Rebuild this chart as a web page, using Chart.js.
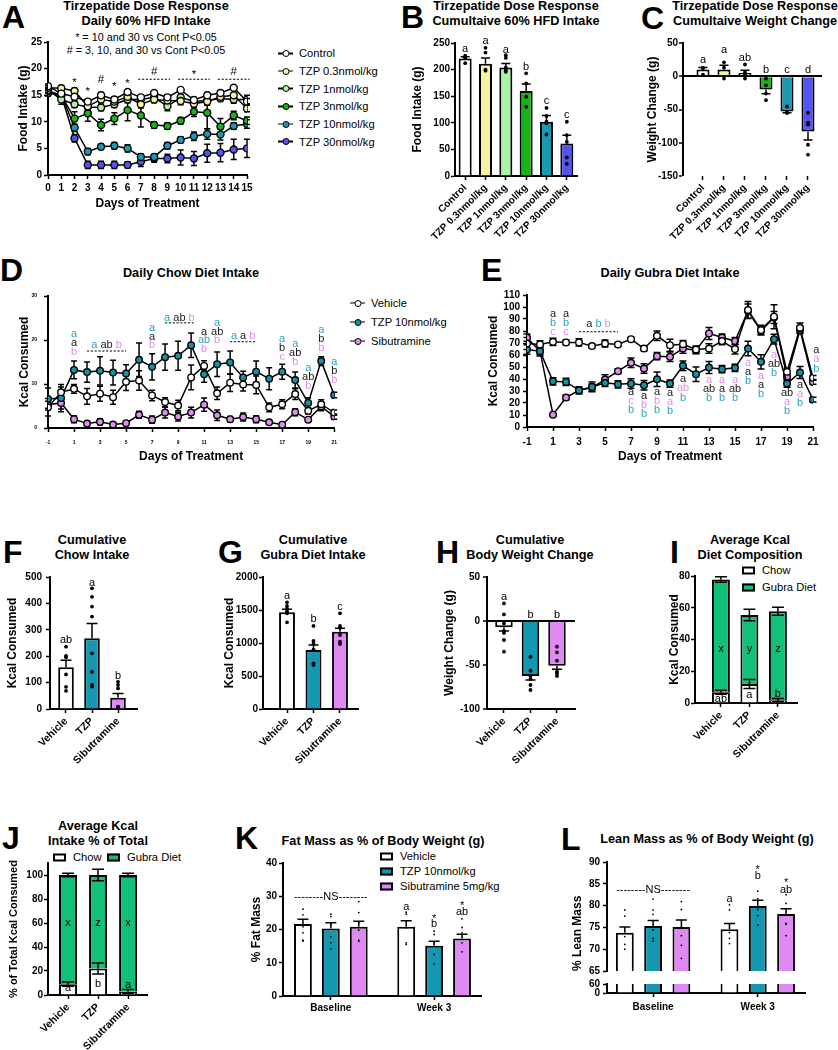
<!DOCTYPE html>
<html><head><meta charset="utf-8">
<script src="https://cdn.jsdelivr.net/npm/chart.js@4.4.1/dist/chart.umd.min.js"></script>
<style>
html,body{margin:0;padding:0;background:#fff;}
#fig{position:relative;width:838px;height:1050px;overflow:hidden;font-family:'Liberation Sans',Arial,Helvetica,sans-serif;color:#000;background:#fff;}
#fig canvas{position:absolute;}
.pl{position:absolute;font-weight:bold;font-size:32px;line-height:32px;}
.tt{position:absolute;width:300px;text-align:center;font-weight:bold;font-size:12.7px;line-height:14.5px;white-space:nowrap;}
.nt{position:absolute;width:300px;text-align:center;font-size:10.8px;line-height:13px;white-space:nowrap;}
.lg{position:absolute;font-size:11.2px;line-height:13px;white-space:nowrap;transform:translateY(-50%);display:flex;align-items:center;}
.mk{position:relative;display:inline-block;width:15px;height:1.6px;background:#000;margin-right:6px;}
.mk i{position:absolute;left:50%;top:50%;width:5px;height:5px;border:1.5px solid #000;border-radius:50%;transform:translate(-50%,-50%);}
.bx{display:inline-block;box-sizing:border-box;width:13px;height:8px;border:2px solid #000;margin-right:7px;}
</style></head><body>
<div id="fig">
<div class="pl" style="left:2px;top:1px">A</div>
<div class="pl" style="left:401px;top:1px">B</div>
<div class="pl" style="left:641px;top:2px">C</div>
<div class="pl" style="left:0px;top:254px">D</div>
<div class="pl" style="left:481px;top:254px">E</div>
<div class="pl" style="left:3px;top:536px">F</div>
<div class="pl" style="left:218px;top:536px">G</div>
<div class="pl" style="left:436px;top:536px">H</div>
<div class="pl" style="left:670px;top:536px">I</div>
<div class="pl" style="left:2px;top:822px">J</div>
<div class="pl" style="left:235px;top:822px">K</div>
<div class="pl" style="left:561px;top:823px">L</div>

<div class="tt" style="left:-4px;top:-1px">Tirzepatide Dose Response<br>Daily 60% HFD Intake</div>
<div class="tt" style="left:366px;top:-1px">Tirzepatide Dose Response<br>Cumultaive 60% HFD Intake</div>
<div class="tt" style="left:605px;top:-1px">Tirzepatide Dose Response<br>Cumultaive Weight Change</div>
<div class="nt" style="left:-4px;top:30.5px">* = 10 and 30 vs Cont P&lt;0.05<br># = 3, 10, and 30 vs Cont P&lt;0.05</div>
<div class="tt" style="left:41px;top:265.5px">Daily Chow Diet Intake</div>
<div class="tt" style="left:520px;top:265.5px">Daily Gubra Diet Intake</div>
<div class="tt" style="left:-58px;top:532.5px;line-height:15px">Cumulative<br>Chow Intake</div>
<div class="tt" style="left:163px;top:532.5px;line-height:15px">Cumulative<br>Gubra Diet Intake</div>
<div class="tt" style="left:380px;top:532.5px;line-height:15px">Cumulative<br>Body Weight Change</div>
<div class="tt" style="left:600px;top:532.5px;line-height:15px">Average Kcal<br>Diet Composition</div>
<div class="tt" style="left:-52px;top:818.5px;line-height:15px">Average Kcal<br>Intake % of Total</div>
<div class="tt" style="left:233px;top:833.75px">Fat Mass as % of Body Weight (g)</div>
<div class="tt" style="left:557px;top:831.75px">Lean Mass as % of Body Weight (g)</div>

<div class="lg" style="left:278px;top:53.3px"><span class="mk"><i style="background:#ffffff"></i></span>Control</div>
<div class="lg" style="left:278px;top:71px"><span class="mk"><i style="background:#f6f3a0"></i></span>TZP 0.3nmol/kg</div>
<div class="lg" style="left:278px;top:88.7px"><span class="mk"><i style="background:#a9f3a2"></i></span>TZP 1nmol/kg</div>
<div class="lg" style="left:278px;top:106.4px"><span class="mk"><i style="background:#19b319"></i></span>TZP 3nmol/kg</div>
<div class="lg" style="left:278px;top:124px"><span class="mk"><i style="background:#1a9ab2"></i></span>TZP 10nmol/kg</div>
<div class="lg" style="left:278px;top:141.7px"><span class="mk"><i style="background:#5353f0"></i></span>TZP 30nmol/kg</div>

<div class="lg" style="left:350px;top:303px"><span class="mk"><i style="background:#ffffff"></i></span>Vehicle</div>
<div class="lg" style="left:350px;top:322px"><span class="mk"><i style="background:#1592ab"></i></span>TZP 10nmol/kg</div>
<div class="lg" style="left:350px;top:341px"><span class="mk"><i style="background:#e08cf0"></i></span>Sibutramine</div>

<div class="lg" style="left:742px;top:570px"><span class="bx" style="background:#fff"></span>Chow</div>
<div class="lg" style="left:742px;top:587px"><span class="bx" style="background:#12c07a"></span>Gubra Diet</div>

<div class="lg" style="left:53px;top:857px"><span class="bx" style="background:#fff"></span>Chow</div>
<div class="lg" style="left:107px;top:857px"><span class="bx" style="background:#12c07a"></span>Gubra Diet</div>

<div class="lg" style="left:380px;top:856px"><span class="bx" style="background:#fff"></span>Vehicle</div>
<div class="lg" style="left:380px;top:871px"><span class="bx" style="background:#1597b0"></span>TZP 10nmol/kg</div>
<div class="lg" style="left:380px;top:886px"><span class="bx" style="background:#df89f3"></span>Sibutramine 5mg/kg</div>
</div>
<script>
// ---------------- DATA ----------------
// Panel A: daily 60% HFD intake (g)
const aDays = [0,1,2,3,4,5,6,7,8,9,10,11,12,13,14,15];
const aControl = [16.7,15.3,14.7,13.8,15.0,14.2,15.6,14.6,15.4,14.6,16.0,14.1,15.0,15.4,16.4,13.8];
const aControlSem = [0.4,0.5,0.5,0.4,0.5,0.5,0.4,0.3,0.4,0.5,0.4,0.5,0.5,0.5,0.3,0.6];
const aTzp03 = [16.4,16.3,15.8,12.9,14.2,13.8,14.7,13.3,14.2,14.0,13.9,13.4,13.8,14.7,15.0,12.5];
const aTzp03Sem = [0.4,0.5,0.5,0.6,0.6,0.6,0.6,0.7,0.6,0.7,0.7,0.6,0.7,0.6,0.5,0.6];
const aTzp1 = [16.0,14.2,13.3,12.8,12.7,13.3,14.2,14.2,14.6,12.9,14.6,13.8,14.0,14.4,14.2,14.2];
const aTzp1Sem = [0.5,0.9,0.6,0.6,0.6,0.6,0.6,0.8,0.7,0.8,0.8,0.7,0.7,0.6,0.7,0.8];
const aTzp3 = [15.8,15.0,10.6,11.6,9.4,10.6,12.2,11.2,9.4,9.2,10.2,11.9,11.7,9.1,11.2,10.2];
const aTzp3Sem = [0.5,0.6,1.3,1.5,1.1,1.1,2.0,2.2,0.6,0.6,0.6,0.9,3.0,1.5,0.8,0.7];
const aTzp10 = [15.4,15.2,8.9,4.4,5.3,5.5,5.0,3.4,3.4,5.5,6.6,7.3,7.7,7.6,9.2,9.6];
const aTzp10Sem = [0.5,0.6,0.7,0.6,0.5,0.6,0.7,0.6,0.5,0.6,0.6,0.8,1.0,1.0,0.6,0.8];
const aTzp30 = [15.4,15.0,6.9,1.9,1.9,1.9,1.9,2.5,3.1,3.1,3.3,3.1,4.1,4.2,4.8,5.0];
const aTzp30Sem = [0.5,0.6,0.7,0.7,0.7,0.7,0.6,0.9,0.7,0.8,1.4,1.3,1.7,1.7,1.9,1.7];
const aMarks = [[2,18.0,'*'],[3,16.25,'*'],[4,17.8,'#'],[5,17.2,'*'],[6,17.8,'*']];
const aSpans = [[6.8,9.2,18.0,19.4,'#'],[9.8,12.2,18.0,19.4,'*'],[12.8,15.2,18.0,19.4,'#']];

// Panel B / C: cumulative intake & weight change
const doseCats = ['Control','TZP 0.3nmol/kg','TZP 1nmol/kg','TZP 3nmol/kg','TZP 10nmol/kg','TZP 30nmol/kg'];
const bMean = [221,211,204,160,102,61];
const bSem = [3,11,7.5,13,11.5,15.5];
const bDots = [[226,224,222,212],[241,232,200,198],[227,222,204,199,196],[193,174,149,130],[128,113,102,99,78],[102,77,64,35,23]];
const bLetters = ['a','a','a','b','c','c'];
const bLetterY = [238,254,237,205,141,115];
const cMean = [10,10,5,-20,-53,-83];
const cSem = [3,6.5,4,6.5,2,13];
const cDots = [[13,12,2.5],[21,13,-3.5],[17.7,6,2.5,-3.5],[-3.5,-13.6,-26,-36],[-45.5,-54,-55,-55],[-55,-70,-72.5,-103,-118]];
const cLetters = ['a','a','ab','b','c','d'];
const cLetterY = [24,39,27,10,10,10];

// Panel D / E: daily chow and Gubra intake (kcal)
const dDays = [-1,0,1,2,3,4,5,6,7,8,9,10,11,12,13,14,15,16,17,18,19,20,21];
const dayTicks = [-1,1,3,5,7,9,11,13,15,17,19,21];
const dVeh = [4.7,8.1,8.9,7.2,7.8,7.0,10.5,10.8,7.4,5.9,5.1,11.5,14.1,7.9,10.3,9.9,9.8,4.7,5.4,7.7,3.9,5.4,3.5];
const dVehSem = [2.0,1.8,1.0,1.8,1.7,1.6,2.0,2.2,1.2,1.0,1.2,2.8,1.2,1.4,2.0,1.5,2.0,1.0,1.0,1.2,0.7,1.0,0.6];
const dTzp = [6.6,6.8,13.2,12.7,13.0,12.6,12.4,15.5,13.9,16.1,16.4,18.8,12.2,14.5,14.9,11.5,12.8,11.2,12.8,10.9,5.7,15.2,7.5];
const dTzpSem = [2.5,2.5,2.0,2.3,3.2,2.8,2.0,3.8,3.0,3.0,3.3,2.8,1.8,2.8,2.6,1.4,2.4,2.5,1.7,1.8,1.2,1.0,0.6];
const dSib = [5.3,5.7,2.0,1.0,1.4,0.8,1.1,3.0,1.9,3.5,2.6,3.5,5.3,2.9,2.0,2.5,2.0,1.3,0.75,3.6,1.9,4.9,2.6];
const dSibSem = [0.8,2.0,0.8,0.4,0.7,0.4,0.4,0.8,0.8,1.2,1.0,1.2,1.5,1.2,0.6,0.9,0.8,0.4,0.3,0.8,0.4,1.0,0.6];
const dStacks = [[1,21.3,'Ta Va Sb'],[7,22.8,'Ta Va Sb'],[11,21.9,'Va Tab Sb'],[12,23.9,'Ta Vab Sb'],[17,20.2,'Ta Vb Sc'],[18,19.1,'Ta Vab Sb'],[19,13.6,'Ta Vab Sb'],[20,22.2,'Ta Vb Sb'],[21,14.9,'Ta Vb Sb']];
const dSpans = [[2,5,17.5,18.8,'Ta Vab Sb'],[8,10.2,23.9,25.1,'Ta Vab Sb'],[13,15,19.6,20.9,'Ta Va Sb']];
const eVeh = [69.6,68.8,71,70.5,70.5,67.4,69.6,68.8,73.2,65.4,76,68.2,69,64.6,65.4,71.6,64.9,97.5,80.8,91.9,46,82.7,41];
const eVehSem = [5,3,3,2,3,1.5,3,1.5,1.5,2,4,5,3,3,4,3,4,7,4,10,3,4,2];
const eTzp = [64.6,63.2,38.1,37.6,30.6,33.4,36.8,35.6,36.2,34.8,39.8,36.2,51,44,49.6,48.2,49.3,65.4,54.3,73.2,36.2,45.4,22.8];
const eTzpSem = [4,4,3,3,3,4,3,3,4,4,6,3,4,6,5,3,3,6,6,4,3,5,2];
const eSib = [74.4,63.2,10.3,24.5,30.6,32.9,39.5,46.5,53.5,48.7,59,58.5,65.4,64,78,74.6,71.6,96.6,79.9,91.3,41.8,80.8,37.6];
const eSibSem = [3,3,1,2,2,3,4,2,4,4,3,4,4,3,5,3,3,6,3,5,2,3,2];
const eStacks = [[1,94.4,'Va Tb Sc'],[2,94.4,'Va Tb Sc'],[7,29.2,'Va Sc Tb'],[8,25.9,'Va Sb Tb'],[9,29.2,'Va Sb Tb'],[10,28.7,'Va Sa Tb'],[11,39.8,'Va Sab Tb'],[13,39.5,'Sa Vab Tb'],[14,39.5,'Sa Va Tb'],[15,39.5,'Sa Vab Tb'],[16,53.7,'Sa Va Tb'],[17,42.6,'Sa Va Tb'],[18,60.4,'Sa Vab Tb'],[19,28.4,'Vab Sa Tb'],[20,35.4,'Va Sa Tb'],[21.25,64,'Va Sa Tb']];
const eSpans = [[3,6,79.4,85.5,'Va Tb Sb']];

// Panels F-J: three-group bars
const trtCats = ['Vehicle','TZP','Sibutramine'];
const fMean = [158,268,43];
const fSem = [27,56,16];
const fDots = [[236,201,196,131,84,69],[457,425,388,350,211,141,91,85],[103,91,78,9,7,5]];
const fLetters = ['ab','a','b'];
const fLetterY = [261,478,125];
const gMean = [1465,894,1172];
const gSem = [45,76,50];
const gDots = [[1616,1561,1520,1480,1450,1313],[1258,1030,985,900,692,667],[1450,1258,1230,1121,1020,985]];
const gLetters = ['a','b','c'];
const gLetterY = [1712,1359,1550];
const hMean = [-7.2,-62.5,-50.8];
const hSem = [4.2,4.5,4.1];
const hDots = [[20,7.5,-2.7,-11.4,-13.5,-21.6,-34.9],[-40.6,-56.5,-62.5,-66,-72.7,-78.4],[-29.2,-35.6,-45.1,-57.6,-59.5,-62.5]];
const hLetters = ['a','b','b'];
const hLetterY = [27.6,6.8,6.8];
const iChow = [6.8,12,1.8];
const iChowSem = [1.3,2.8,1];
const iGubra = [71,43.4,56];
const iGubraSem = [1.7,3.6,2.5];
const iChowLetters = ['ab','a','b'];
const iChowLetterY = [2.7,5.3,5.9];
const iGubraLetters = ['x','y','z'];
const iGubraLetterY = [34.3,34.3,34.3];
const jChow = [9,22,3];
const jChowSem = [1.8,4.6,1.5];
const jGubra = [91,78,97];
const jGubraSem = [1.4,4.7,1.4];
const jChowLetters = ['a','b','a'];
const jChowLetterY = [5.5,9.5,8.3];
const jGubraLetters = ['x','z','x'];
const jGubraLetterY = [60,60,60];

// Panels K / L: body composition
const timeCats = ['Baseline','Week 3'];
const kFat = {veh:[21.65,20.8], tzp:[20.3,15.1], sib:[20.8,17.3]};
const kFatSem = {veh:[1.4,1.8], tzp:[1.7,1.4], sib:[1.7,1.3]};
const kFatDots = {veh:[[26.1,24.4,20.8,19,16.8,16.5],[25.2,24.6,20.5,16,15.5]], tzp:[[24.6,23.9,21.5,17.8,16,14.1],[19.5,18.5,16,12.5,9.6]], sib:[[28.4,25.1,22,19.8,16.8,16.5],[23.2,20.6,19,16,13.3]]};
const kMarks = [[1,29.9,'K--------NS--------'],[3.7,26.9,'Ka'],[4.7,24.1,'K* Kb'],[5.7,27.9,'K* Kab']];
const lLean = {veh:[73.8,74.6], tzp:[75.3,79.9], sib:[75.1,78.1]};
const lLeanSem = {veh:[1.3,1.3], tzp:[1.3,1.3], sib:[1.6,1.2]};
const lLeanDots = {veh:[[79,77.6,72.9,71.1,70],[80.2,79,73.8,72.5,71.3]], tzp:[[81.5,79,78,74.4,72.5,71.9],[83.3,81.6,79.1,77.7,75.5]], sib:[[80.9,79.1,73.1,70.9,67.9],[82.5,80.5,75.9,75.7,73.1]]};
const lMarks = [[1,83.5,'K--------NS--------'],[3.7,81.5,'Ka'],[4.7,88.9,'K* Kb'],[5.7,85.8,'K* Kab']];

// ---------------- STYLE / HELPERS ----------------
const FONT = "'Liberation Sans', Arial, Helvetica, sans-serif";
Chart.defaults.font.family = FONT;
Chart.defaults.color = '#000';
const COL = {T:'#27a7c3', V:'#1a1a1a', S:'#e48bf0', K:'#000'};
const DOSE_COLORS = ['#ffffff','#f6f3a0','#a9f3a2','#19b319','#1a9ab2','#5353f0'];
const TRT_COLORS = ['#ffffff','#1597b0','#df89f3'];
const GUBRA = '#12c07a';
const GROUP_GAP = 3.7;
const FIG = document.getElementById('fig');

const parseSpec = s => s.split(' ').map(t => [t.slice(1), t[0]]);
const stackItems = arr => arr.map(([x, y, s]) => ({x, y, lines: parseSpec(s)}));
const spanItems = arr => arr.map(([x0, x1, ly, y, s]) => ({x0, x1, ly, y, parts: s.length === 1 ? [[s,'K']] : parseSpec(s)}));
const letterItems = (letters, ys, xs) => letters.map((t, i) => ({x: xs ? xs[i] : i, y: ys[i], lines: [[t, 'K']]}));
const xy = (xs, ys) => ys.map((v, i) => ({x: xs[i], y: v}));
const idx = n => Array.from({length: n}, (_, i) => i);
const dotData = (dots, xs) => dots.flatMap((arr, i) => arr.map(v => ({x: xs[i], y: v})));
const plain = v => String(v);

const errorBars = {
  id: 'errorBars',
  beforeDatasetsDraw(chart, args, o) { if (o.layer === 'below') drawErr(chart, o); },
  afterDatasetsDraw(chart, args, o) { if (o.layer !== 'below') drawErr(chart, o); }
};
function drawErr(chart, o) {
  const ctx = chart.ctx, ys = chart.scales.y;
  const half = (o.cap || 6) / 2;
  ctx.save(); ctx.strokeStyle = '#000'; ctx.lineWidth = 1.5;
  chart.data.datasets.forEach((ds, di) => {
    if (!ds.errors) return;
    const meta = chart.getDatasetMeta(di);
    meta.data.forEach((el, i) => {
      const e = ds.errors[i]; if (e == null) return;
      const v = ys.getValueForPixel(el.y);
      const dir = ds.errDir || 'both';
      const ends = [];
      if (dir === 'both' || (dir === 'auto' && v >= 0)) ends.push(v + e);
      if (dir === 'both' || (dir === 'auto' && v < 0)) ends.push(v - e);
      ends.forEach(end => {
        const py = ys.getPixelForValue(end);
        ctx.beginPath(); ctx.moveTo(el.x, el.y); ctx.lineTo(el.x, py);
        ctx.moveTo(el.x - half, py); ctx.lineTo(el.x + half, py); ctx.stroke();
      });
    });
  });
  ctx.restore();
}
const annot = {
  id: 'annot',
  afterDatasetsDraw(chart, args, o) {
    if (!o || (!o.items && !o.groups)) return;
    const ctx = chart.ctx, xs = chart.scales.x, ys = chart.scales.y;
    const size = o.size || 11, sp = o.spacing || 9;
    const shift = t => t === '*' ? size * 0.27 : 0;
    ctx.save();
    ctx.font = size + 'px ' + FONT; ctx.textBaseline = 'middle';
    (o.items || []).forEach(it => {
      const px = xs.getPixelForValue(it.x);
      let py = ys.getPixelForValue(it.y);
      ctx.textAlign = 'center';
      it.lines.forEach(([t, c]) => { ctx.fillStyle = COL[c] || '#000'; ctx.fillText(t, px, py + shift(t)); py += sp; });
    });
    (o.groups || []).forEach(g => {
      const x0 = xs.getPixelForValue(g.x0), x1 = xs.getPixelForValue(g.x1), ly = ys.getPixelForValue(g.ly);
      ctx.strokeStyle = '#000'; ctx.lineWidth = 1; ctx.setLineDash([2.2, 1.6]);
      ctx.beginPath(); ctx.moveTo(x0, ly); ctx.lineTo(x1, ly); ctx.stroke(); ctx.setLineDash([]);
      const ty = ys.getPixelForValue(g.y), gap = ctx.measureText(' ').width;
      const ws = g.parts.map(p => ctx.measureText(p[0]).width);
      let cx = (x0 + x1) / 2 - (ws.reduce((a, b) => a + b, 0) + gap * (ws.length - 1)) / 2;
      ctx.textAlign = 'left';
      g.parts.forEach((p, k) => { ctx.fillStyle = COL[p[1]] || '#000'; ctx.fillText(p[0], cx, ty + shift(p[0])); cx += ws[k] + gap; });
    });
    ctx.restore();
  }
};
Chart.register(errorBars, annot);

const BORDER = {display: true, color: '#000', width: 2};
const gridOpts = extra => Object.assign({display: true, drawOnChartArea: false, drawTicks: true, tickLength: 4, tickWidth: 1.5, tickColor: '#000', color: '#000', offset: false}, extra || {});
const zeroGrid = () => gridOpts({drawOnChartArea: true, color: c => (c.tick && c.tick.value === 0) ? '#000' : 'rgba(0,0,0,0)', lineWidth: c => (c.tick && c.tick.value === 0) ? 2 : 0});
function yScale(min, max, step, title, titlePad, tickPad, o) {
  o = o || {};
  return {
    type: 'linear', min, max, stacked: !!o.stacked,
    afterBuildTicks: o.ticks ? (s => { s.ticks = o.ticks.map(v => ({value: v})); }) : undefined,
    ticks: {stepSize: step, font: {size: o.fs || 10, weight: 'bold'}, padding: tickPad, color: '#000', autoSkip: false, includeBounds: false, callback: plain},
    grid: o.grid || gridOpts(), border: BORDER,
    title: {display: !!title, text: title, align: o.align || 'center', font: {size: o.tfs || 12, weight: 'bold'}, color: '#000', padding: {top: titlePad, bottom: 0}}
  };
}
function xCat(min, max, vals, labels, o) {
  o = o || {};
  return {
    type: 'linear', min, max, offset: false, stacked: !!o.stacked, display: o.display === undefined ? true : o.display,
    afterBuildTicks: s => { s.ticks = vals.map(v => ({value: v})); },
    ticks: {autoSkip: false, maxRotation: o.rot === undefined ? 45 : o.rot, minRotation: o.rot === undefined ? 45 : o.rot, font: {size: o.fs || 10, weight: 'bold'}, padding: o.tp === undefined ? 2 : o.tp, color: '#000', callback: (v, i) => labels[i]},
    grid: gridOpts(), border: o.noBorder ? {display: false} : BORDER
  };
}
function xDays(min, max, tickVals, fs, pad, titlePb) {
  return {
    type: 'linear', min, max, offset: false,
    afterBuildTicks: s => { s.ticks = tickVals.map(v => ({value: v})); },
    ticks: {autoSkip: false, maxRotation: 0, minRotation: 0, font: {size: fs, weight: 'bold'}, padding: pad, color: '#000', callback: plain},
    grid: gridOpts(), border: BORDER,
    title: {display: true, text: 'Days of Treatment', font: {size: 12, weight: 'bold'}, color: '#000', padding: {top: 0, bottom: titlePb}}
  };
}
function mk(box, area, cfg, padBottom) {
  const [bx, by, bw, bh] = box, [L, T, R, B] = area;
  padBottom = padBottom || 0;
  const cv = document.createElement('canvas');
  cv.width = bw; cv.height = bh;
  cv.style.left = bx + 'px'; cv.style.top = by + 'px'; cv.style.width = bw + 'px'; cv.style.height = bh + 'px';
  FIG.appendChild(cv);
  const o = cfg.options;
  o.responsive = false; o.animation = false; o.devicePixelRatio = 1; o.maintainAspectRatio = false;
  o.layout = {padding: {left: 0, top: T - by, right: bx + bw - R, bottom: padBottom}};
  o.plugins = Object.assign({legend: {display: false}, tooltip: {enabled: false}, title: {display: false}}, o.plugins || {});
  const xH = by + bh - padBottom - B, yW = L - bx;
  o.scales.x.afterFit = s => { s.height = xH; };
  o.scales.y.afterFit = s => { s.width = yW; };
  return new Chart(cv, cfg);
}
function lineDs(label, xs, ys, errs, color, r) {
  return {label, data: xy(xs, ys), errors: errs, borderColor: '#000', borderWidth: 1.5, pointRadius: r, pointBorderWidth: 1.4, pointBackgroundColor: color, pointBorderColor: '#000', tension: 0, fill: false};
}
function dotsDs(data, r) {
  return {type: 'scatter', data, pointRadius: r, pointBackgroundColor: '#000', pointBorderWidth: 0, order: 0};
}
function barDs(data, errs, colors, pct, extra) {
  return Object.assign({type: 'bar', data, errors: errs, errDir: 'auto', backgroundColor: colors, borderColor: '#000', borderWidth: 2, categoryPercentage: 1, barPercentage: pct, order: 1}, extra || {});
}

// ---------------- PANEL A ----------------
mk([0,30,270,185],[48,42,247,175],{
  type: 'line',
  data: {datasets: [
    lineDs('Control', aDays, aControl, aControlSem, DOSE_COLORS[0], 3.5),
    lineDs('TZP 0.3nmol/kg', aDays, aTzp03, aTzp03Sem, DOSE_COLORS[1], 3.5),
    lineDs('TZP 1nmol/kg', aDays, aTzp1, aTzp1Sem, DOSE_COLORS[2], 3.5),
    lineDs('TZP 3nmol/kg', aDays, aTzp3, aTzp3Sem, DOSE_COLORS[3], 3.5),
    lineDs('TZP 10nmol/kg', aDays, aTzp10, aTzp10Sem, DOSE_COLORS[4], 3.5),
    lineDs('TZP 30nmol/kg', aDays, aTzp30, aTzp30Sem, DOSE_COLORS[5], 3.5)
  ]},
  options: {
    scales: {x: xDays(0, 15, aDays, 10, 3, 3.8), y: yScale(0, 25, 5, 'Food Intake (g)', 16, 2)},
    plugins: {errorBars: {layer: 'below', cap: 6}, annot: {size: 11.5, items: aMarks.map(([x, y, t]) => ({x, y, lines: [[t, 'K']]})), groups: spanItems(aSpans)}}
  }
});

// ---------------- PANEL B ----------------
const doseIdx = idx(doseCats.length);
mk([405,30,178,215],[455,43,577,176],{
  type: 'bar',
  data: {datasets: [dotsDs(dotData(bDots, doseIdx), 1.9), barDs(xy(doseIdx, bMean), bSem, DOSE_COLORS, 0.64)]},
  options: {
    scales: {x: xCat(-0.5, 5.5, doseIdx, doseCats), y: yScale(0, 250, 50, 'Food Intake (g)', 5, 1)},
    plugins: {errorBars: {cap: 9}, annot: {size: 11, items: letterItems(bLetters, bLetterY)}}
  }
});

// ---------------- PANEL C ----------------
mk([640,30,198,215],[683,43,822,176],{
  type: 'bar',
  data: {datasets: [dotsDs(dotData(cDots, doseIdx), 1.9), barDs(xy(doseIdx, cMean), cSem, DOSE_COLORS, 0.62)]},
  options: {
    scales: {x: xCat(-0.952, 5.667, doseIdx, doseCats, {noBorder: true}), y: yScale(-150, 50, 50, 'Weight Change (g)', 5.8, 1, {grid: zeroGrid()})},
    plugins: {errorBars: {cap: 9}, annot: {size: 11, items: letterItems(cLetters, cLetterY)}}
  }
});

// ---------------- PANEL D ----------------
mk([0,285,345,180],[48,296,336,428],{
  type: 'line',
  data: {datasets: [
    lineDs('Vehicle', dDays, dVeh, dVehSem, '#ffffff', 3.3),
    lineDs('TZP 10nmol/kg', dDays, dTzp, dTzpSem, '#1592ab', 3.3),
    lineDs('Sibutramine', dDays, dSib, dSibSem, '#e08cf0', 3.3)
  ]},
  options: {
    scales: {x: xDays(-1, 21, dayTicks, 5, 8, 0.8), y: yScale(0, 30, 10, 'Kcal Consumed', 17.8, 7, {fs: 5})},
    plugins: {errorBars: {layer: 'below', cap: 6}, annot: {size: 11, spacing: 8.8, items: stackItems(dStacks), groups: spanItems(dSpans)}}
  }
});

// ---------------- PANEL E ----------------
mk([470,285,360,180],[527,295,813,427],{
  type: 'line',
  data: {datasets: [
    lineDs('Vehicle', dDays, eVeh, eVehSem, '#ffffff', 3.3),
    lineDs('TZP 10nmol/kg', dDays, eTzp, eTzpSem, '#1592ab', 3.3),
    lineDs('Sibutramine', dDays, eSib, eSibSem, '#e08cf0', 3.3)
  ]},
  options: {
    scales: {x: xDays(-1, 21, dayTicks, 10, 5, 0.8), y: yScale(0, 110, 10, 'Kcal Consumed', 16.8, 3)},
    plugins: {errorBars: {layer: 'below', cap: 7}, annot: {size: 11, spacing: 9.2, items: stackItems(eStacks), groups: spanItems(eSpans)}}
  }
});

// ---------------- PANELS F, G, H ----------------
const trtIdx = idx(trtCats.length);
mk([0,565,145,210],[50,577,137,709],{
  type: 'bar',
  data: {datasets: [dotsDs(dotData(fDots, trtIdx), 1.9), barDs(xy(trtIdx, fMean), fSem, TRT_COLORS, 0.6)]},
  options: {
    scales: {x: xCat(-0.615, 2.73, trtIdx, trtCats, {fs: 10.5}), y: yScale(0, 500, 100, 'Kcal Consumed', 5.8, 4)},
    plugins: {errorBars: {cap: 11}, annot: {size: 11, items: letterItems(fLetters, fLetterY)}}
  }
});
mk([215,565,150,210],[263,577,358,709],{
  type: 'bar',
  data: {datasets: [dotsDs(dotData(gDots, trtIdx), 1.9), barDs(xy(trtIdx, gMean), gSem, TRT_COLORS, 0.6)]},
  options: {
    scales: {x: xCat(-0.906, 2.68, trtIdx, trtCats, {fs: 10.5}), y: yScale(0, 2000, 500, 'Kcal Consumed', 7.8, 1)},
    plugins: {errorBars: {cap: 10}, annot: {size: 11, items: letterItems(gLetters, gLetterY)}}
  }
});
mk([425,565,160,210],[487,577,575,709],{
  type: 'bar',
  data: {datasets: [dotsDs(dotData(hDots, trtIdx), 1.9), barDs(xy(trtIdx, hMean), hSem, TRT_COLORS, 0.66)]},
  options: {
    scales: {x: xCat(-0.64, 2.68, trtIdx, trtCats, {fs: 10.5}), y: yScale(-100, 50, 50, 'Weight Change (g)', 17.8, 3, {grid: zeroGrid()})},
    plugins: {errorBars: {cap: 10}, annot: {size: 11, items: letterItems(hLetters, hLetterY)}}
  }
});

// ---------------- PANEL I ----------------
mk([655,565,183,210],[695,576,797,703],{
  type: 'bar',
  data: {datasets: [
    barDs(xy(trtIdx, iChow), iChowSem, '#ffffff', 0.63, {label: 'Chow', errDir: 'both', stack: 's'}),
    barDs(xy(trtIdx, iGubra), iGubraSem, GUBRA, 0.63, {label: 'Gubra Diet', errDir: 'both', stack: 's'})
  ]},
  options: {
    scales: {x: xCat(-0.91, 2.67, trtIdx, trtCats, {fs: 10.5, stacked: true}), y: yScale(0, 80, 20, 'Kcal Consumed', 12.8, 1, {stacked: true})},
    plugins: {errorBars: {cap: 12}, annot: {size: 11, items: letterItems(iChowLetters, iChowLetterY).concat(letterItems(iGubraLetters, iGubraLetterY))}}
  }
});

// ---------------- PANEL J ----------------
mk([0,855,160,195],[48,863,147,995],{
  type: 'bar',
  data: {datasets: [
    barDs(xy(trtIdx, jChow), jChowSem, '#ffffff', 0.6, {label: 'Chow', errDir: 'both', stack: 's'}),
    barDs(xy(trtIdx, jGubra), jGubraSem, GUBRA, 0.6, {label: 'Gubra Diet', errDir: 'both', stack: 's'})
  ]},
  options: {
    scales: {x: xCat(-0.667, 2.63, trtIdx, trtCats, {fs: 10.5, stacked: true}), y: yScale(0, 110, 20, '% of Total Kcal Consumed', 7.2, 1, {stacked: true, tfs: 11})},
    plugins: {errorBars: {cap: 12}, annot: {size: 11, items: letterItems(jChowLetters, jChowLetterY).concat(letterItems(jGubraLetters, jGubraLetterY))}}
  }
});

// ---------------- PANELS K, L ----------------
const trtKeys = ['veh','tzp','sib'];
const groupTicks = timeCats.map((_, g) => g * GROUP_GAP + 1);
const barX = trtKeys.flatMap((k, t) => timeCats.map((_, g) => g * GROUP_GAP + t));
const flatVals = obj => trtKeys.flatMap(k => obj[k]);
const barColors = trtKeys.flatMap((k, t) => timeCats.map(() => TRT_COLORS[t]));
const flatDots = obj => dotData(trtKeys.flatMap(k => obj[k]), barX);
const markItems = arr => arr.map(([x, y, s]) => ({x, y, lines: parseSpec(s)}));

mk([240,855,245,170],[283,863,482,996],{
  type: 'bar',
  data: {datasets: [dotsDs(flatDots(kFatDots), 0.9), barDs(xy(barX, flatVals(kFat)), flatVals(kFatSem), barColors, 0.64)]},
  options: {
    scales: {x: xCat(-0.714, 6.38, groupTicks, timeCats, {rot: 0, tp: 2}), y: yScale(0, 40, 10, '% Fat Mass', 9.8, 2)},
    plugins: {errorBars: {cap: 11}, annot: {size: 11, spacing: 8.6, items: markItems(kMarks)}}
  }
});
mk([565,848,273,132],[607,862,805,971],{
  type: 'bar',
  data: {datasets: [dotsDs(flatDots(lLeanDots), 0.9), barDs(xy(barX, flatVals(lLean)), flatVals(lLeanSem), barColors, 0.63)]},
  options: {
    scales: {x: xCat(-0.63, 6.37, groupTicks, timeCats, {rot: 0, display: false}), y: yScale(65, 90, 5, '% Lean Mass', 5.8, 3, {align: 'start'})},
    plugins: {errorBars: {cap: 11}, annot: {size: 11, spacing: 9.2, items: markItems(lMarks)}}
  }
}, 9);
mk([565,975,273,75],[607,982,805,993],{
  type: 'bar',
  data: {datasets: [barDs(xy(barX, flatVals(lLean)), null, barColors, 0.63, {clip: 0})]},
  options: {
    scales: {x: xCat(-0.63, 6.37, groupTicks, timeCats, {rot: 0, tp: 4}), y: yScale(0, 60, 60, '', 0, 3, {ticks: [0, 60]})}
  }
});
</script>
</body></html>
